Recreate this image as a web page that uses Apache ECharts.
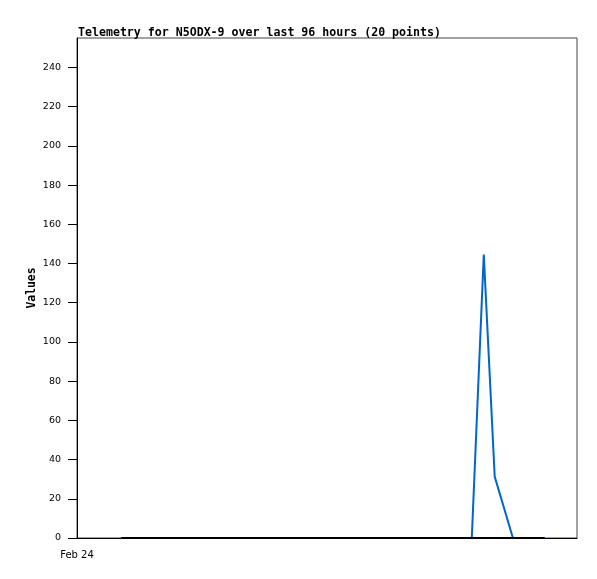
<!DOCTYPE html>
<html><head><meta charset="utf-8">
<script src="https://cdn.jsdelivr.net/npm/echarts@6/dist/echarts.min.js"></script>
<style>html,body{margin:0;padding:0;background:#fff}#c{width:597px;height:579px}</style>
</head><body><div id="c"></div>
<script>
// hours since Feb 24 00:00
var hours = [8.5, 12, 16, 20.5, 25, 29, 33.5, 38, 42, 46.5, 51, 55, 60, 64.5, 69, 75.8, 78.1, 80.2, 83.7, 89.8];
var blueValues = [0, 0, 0, 0, 0, 0, 0, 0, 0, 0, 0, 0, 0, 0, 0, 0, 144.5, 31.3, 0, 0];
var blackValues = [0, 0, 0, 0, 0, 0, 0, 0, 0, 0, 0, 0, 0, 0, 0, 0, 0, 0, 0, 0];
var xTickLabels = ['Feb 24'];
var titleText = 'Telemetry for N5ODX-9 over last 96 hours (20 points)';

function pairs(v){ return hours.map(function(h,i){ return [h, v[i]]; }); }

var chart = echarts.init(document.getElementById('c'), null, {renderer:'canvas'});
chart.setOption({
  animation:false,
  backgroundColor:'#fff',
  title:{text:titleText, left:73, top:22, textStyle:{fontFamily:'DejaVu Sans Mono', fontWeight:'bold', fontSize:11.6, color:'#000'}},
  grid:{left:77, top:38, width:500, height:500, show:true, borderColor:'#444', borderWidth:1, backgroundColor:'transparent'},
  xAxis:{type:'value', min:0, max:96, interval:96,
    axisLine:{show:true, onZero:false, lineStyle:{color:'#000', width:1}},
    axisTick:{show:false}, splitLine:{show:false},
    axisLabel:{showMaxLabel:false, margin:12, fontFamily:'DejaVu Sans', fontSize:10, color:'#000',
      formatter:function(v){ return v===0 ? xTickLabels[0] : ''; }}
  },
  yAxis:{type:'value', min:0, max:255, interval:20, name:'Values', nameLocation:'middle', nameGap:39, nameMoveOverlap:false,
    nameTextStyle:{fontFamily:'DejaVu Sans Mono', fontWeight:'bold', fontSize:11.4, color:'#000'},
    axisLine:{show:true, lineStyle:{color:'#000', width:1}},
    axisTick:{show:true, length:9, lineStyle:{color:'#000'}},
    splitLine:{show:false},
    axisLabel:{showMaxLabel:false, margin:16, fontFamily:'DejaVu Sans', fontSize:9.5, color:'#000'}
  },
  series:[
    {type:'line', data:pairs(blueValues), showSymbol:false, lineStyle:{color:'#0066cc', width:2}, z:2},
    {type:'line', data:pairs(blackValues), showSymbol:false, lineStyle:{color:'#000', width:2}, z:3}
  ]
});
</script></body></html>
